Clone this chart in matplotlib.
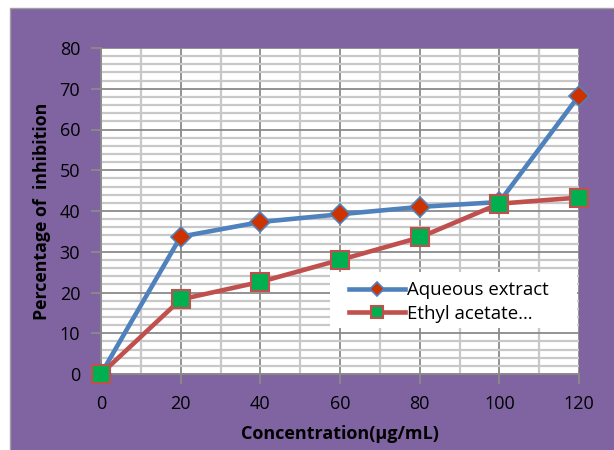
import matplotlib
matplotlib.use("Agg")
import matplotlib.pyplot as plt
from matplotlib.patches import Rectangle
from matplotlib.ticker import MultipleLocator

concentration = [0, 20, 40, 60, 80, 100, 120]
aqueous = [0, 33.7, 37.3, 39.2, 41.0, 42.2, 68.3]
ethyl = [0, 18.3, 22.6, 28.0, 33.5, 41.8, 43.3]
series_names = ["Aqueous extract", "Ethyl acetate\u2026"]

plt.rcParams['font.family'] = ['Open Sans', 'DejaVu Sans']

fig = plt.figure(figsize=(6.14, 4.5), dpi=100, facecolor='white')
fig.patches.append(Rectangle((9.5/614, -0.01), 1, 1 - 7.5/450 + 0.01, transform=fig.transFigure,
                             facecolor='#8064A2', edgecolor='#A0A0A0', lw=1.0, zorder=-10))
ax = fig.add_axes([101/614, 1 - 374/450, (579 - 101)/614, (374 - 48)/450])
ax.set_facecolor('white')

ax.plot(concentration, aqueous, color='#4F81BD', lw=3.3, marker='D', markersize=10,
        markerfacecolor='#CC3300', markeredgecolor='#4F81BD', markeredgewidth=1.2,
        label=series_names[0], zorder=3, clip_on=False)
ax.plot(concentration, ethyl, color='#C0504D', lw=3.3, marker='s', markersize=12.5,
        markerfacecolor='#00B050', markeredgecolor='#C0504D', markeredgewidth=1.5,
        label=series_names[1], zorder=4, clip_on=False)

ax.set_xlim(0, 120)
ax.set_ylim(0, 80)
ax.xaxis.set_major_locator(MultipleLocator(20))
ax.xaxis.set_minor_locator(MultipleLocator(10))
ax.yaxis.set_major_locator(MultipleLocator(10))
ax.yaxis.set_minor_locator(MultipleLocator(2))
ax.grid(which='minor', color='#C8C8C8', lw=1.6, zorder=0)
ax.grid(which='major', color='#8A8A8A', lw=1.3, zorder=1)
ax.set_axisbelow(True)
for s in ax.spines.values():
    s.set_visible(False)
for side in ('left', 'bottom'):
    ax.spines[side].set_visible(True)
    ax.spines[side].set_color('#8A8A8A')
    ax.spines[side].set_linewidth(1.3)
ax.tick_params(which='major', axis='y', length=7, color='#8A8A8A', width=1.3, labelsize=13, pad=8)
ax.tick_params(which='major', axis='x', length=7, color='#8A8A8A', width=1.3, labelsize=13, pad=8)
ax.tick_params(which='minor', length=0)

ax.set_xlabel("Concentration(\u00b5g/mL)", fontsize=13, fontweight='bold', labelpad=9)
ax.set_ylabel("Percentage of  inhibition", fontsize=12.8, fontweight='bold', labelpad=6)

# white legend box
ax.add_patch(Rectangle(((330 - 101)/478, (374 - 328)/326), 247/478, 56/326,
                       transform=ax.transAxes, facecolor='white', edgecolor='none',
                       zorder=2.5, clip_on=False))
leg = ax.legend(loc='center left', bbox_to_anchor=((349 - 101)/478, (374 - 302)/326),
                frameon=False, fontsize=13.4, handlelength=3.0, borderpad=0,
                labelspacing=0.3, handletextpad=0.12, markerscale=0.7,
                borderaxespad=0)
leg.set_zorder(5)

fig.savefig('out.png', dpi=100, facecolor=fig.get_facecolor())
